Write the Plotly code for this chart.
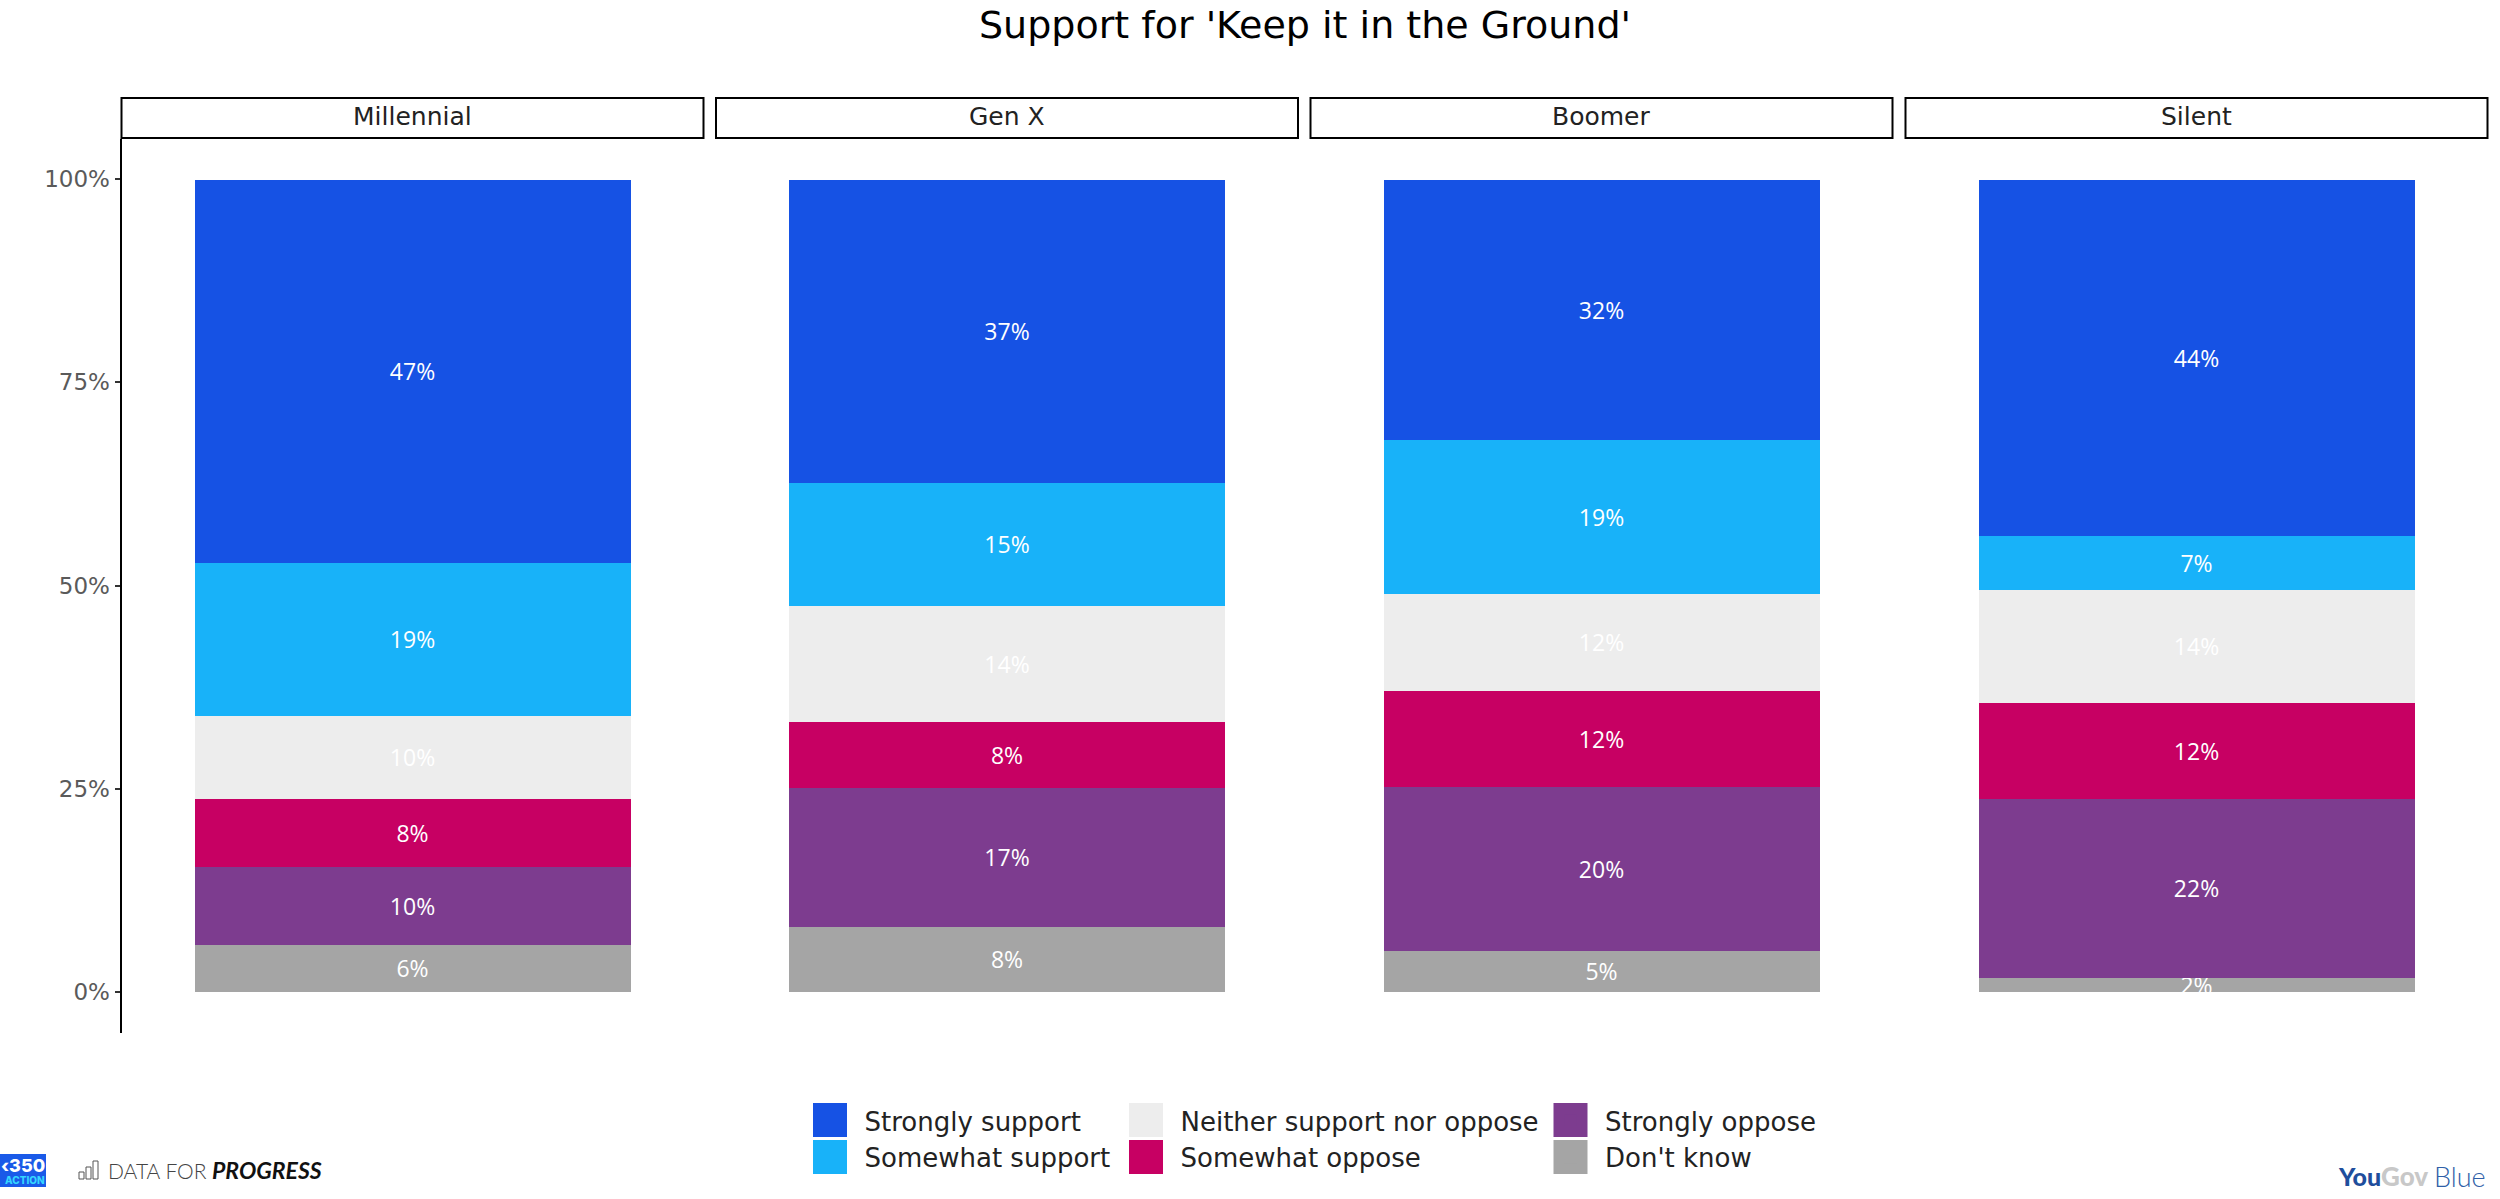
import plotly.graph_objects as go

W, H = 2500, 1199
title = "Support for 'Keep it in the Ground'"
generations = ["Millennial", "Gen X", "Boomer", "Silent"]
tick_values = [0, 25, 50, 75, 100]
tick_labels = ["0%", "25%", "50%", "75%", "100%"]

# bottom-to-top stack order
dont_know = [5.8, 8.0, 5.1, 1.8]
strongly_oppose = [9.6, 17.1, 20.2, 22.0]
somewhat_oppose = [8.4, 8.2, 11.8, 11.8]
neither = [10.2, 14.3, 11.9, 13.9]
somewhat_support = [18.8, 15.1, 19.0, 6.6]
strongly_support = [47.2, 37.3, 32.0, 43.9]

series = [
    ("Don't know", dont_know, "#A5A5A5", "legend3"),
    ("Strongly oppose", strongly_oppose, "#7D3C8F", "legend3"),
    ("Somewhat oppose", somewhat_oppose, "#C70063", "legend2"),
    ("Neither support nor oppose", neither, "#EDEDED", "legend2"),
    ("Somewhat support", somewhat_support, "#18B2F9", "legend"),
    ("Strongly support", strongly_support, "#1652E4", "legend"),
]

SANS = "DejaVu Sans"
LABEL = "Open Sans"


def px(x):
    return x / W


def py(y):
    return 1 - y / H


panel_left = [121.5, 716, 1310.5, 1905.5]
panel_w = 582
plot_top, plot_bottom = 138.6, 1032.6

fig = go.Figure()
shapes, annotations = [], []
layout = {}

for p, gen in enumerate(generations):
    suffix = "" if p == 0 else str(p + 1)
    for name, vals, color, leg in series:
        fig.add_trace(go.Bar(
            x=[gen], y=[vals[p]], name=name, width=0.9,
            marker=dict(color=color, line=dict(width=0)),
            text=[f"{vals[p]:.0f}%"], textposition="inside",
            insidetextanchor="middle", constraintext="none",
            textangle=0,
            textfont=dict(family=LABEL, size=23, color="white"),
            cliponaxis=False,
            xaxis="x" + suffix, yaxis="y" + suffix,
            legend=leg, showlegend=(p == 0),
        ))
    left = panel_left[p]
    layout["xaxis" + suffix] = dict(
        domain=[px(left), px(left + panel_w)], range=[-0.6, 0.6],
        type="category", visible=False, anchor="y" + suffix,
    )
    layout["yaxis" + suffix] = dict(
        domain=[py(plot_bottom), py(plot_top)], range=[-5, 105],
        anchor="x" + suffix, showgrid=False, zeroline=False,
        tickvals=tick_values, ticktext=tick_labels,
        visible=(p == 0), showline=(p == 0), linecolor="black", linewidth=2,
        ticks="outside", ticklen=5, tickwidth=2, tickcolor="#333333",
        tickfont=dict(family=SANS, size=23, color="#5A5A5A"),
    )
    # facet strip
    shapes.append(dict(type="rect", xref="paper", yref="paper",
                       x0=px(left), x1=px(left + panel_w), y0=py(138), y1=py(98),
                       line=dict(color="black", width=2), fillcolor="white"))
    annotations.append(dict(text=gen, xref="paper", yref="paper",
                            x=px(left + panel_w / 2), y=py(117), showarrow=False,
                            xanchor="center", yanchor="middle",
                            font=dict(family=SANS, size=25, color="#222222")))

# large legend keys behind the native legend swatches
key_x = {"legend": 813, "legend2": 1129, "legend3": 1553.5}
legend_rows = {"Strongly support": 0, "Somewhat support": 1,
               "Neither support nor oppose": 0, "Somewhat oppose": 1,
               "Strongly oppose": 0, "Don't know": 1}
for name, _, color, leg in series:
    r = legend_rows[name]
    shapes.append(dict(type="rect", xref="paper", yref="paper",
                       x0=px(key_x[leg]), x1=px(key_x[leg] + 34),
                       y0=py(1137 + 37 * r), y1=py(1103 + 37 * r),
                       line=dict(width=0), fillcolor=color))

legend_font = dict(family=SANS, size=26, color="#222222")
legend_common = dict(orientation="v", yanchor="top", xanchor="left", y=py(1097),
                     bgcolor="rgba(0,0,0,0)", borderwidth=0, itemwidth=59,
                     font=legend_font, traceorder="reversed",
                     itemclick=False, itemdoubleclick=False)
for leg, x in key_x.items():
    layout[leg] = dict(legend_common, x=px(x - 17.5))

# logos (wordmarks)
shapes.append(dict(type="rect", xref="paper", yref="paper",
                   x0=0, x1=px(46), y0=py(1187), y1=py(1154),
                   line=dict(width=0), fillcolor="#1A5AE8"))
for bx, by in [(79, 1172), (86, 1167), (93, 1161)]:
    shapes.append(dict(type="rect", xref="paper", yref="paper",
                       x0=px(bx), x1=px(bx + 5), y0=py(1179), y1=py(by),
                       line=dict(width=1, color="#555555"), fillcolor="white"))


def note(text, x, y, size, color, family="Inter", weight=400, anchor="left", style="normal"):
    annotations.append(dict(text=text, xref="paper", yref="paper", x=px(x), y=py(y),
                            showarrow=False, xanchor=anchor, yanchor="middle",
                            font=dict(family=family, size=size, color=color,
                                      weight=weight, style=style)))


note("‹350", 23, 1165, 18, "white", weight=800, anchor="center")
note("ACTION", 25, 1180, 10, "#35D6FF", weight=800, anchor="center")
note("DATA FOR", 106, 1170, 21, "#444444", family="Lato", weight=300)
note("PROGRESS", 210, 1170, 23, "#111111", family="Lato", weight=700, style="italic")
note("You", 2336, 1176, 25, "#1F4E9C", family="Lato", weight=900)
note("Gov", 2379, 1176, 26, "#C8C8C8", family="Lato", weight=900)
note("Blue", 2432, 1176, 27, "#2F5FA8", family="Lato", weight=300)

fig.update_layout(
    width=W, height=H, barmode="stack", bargap=0,
    paper_bgcolor="white", plot_bgcolor="white",
    margin=dict(l=0, r=0, t=0, b=0),
    title=dict(text=title, x=px(1305), xanchor="center", y=py(25), yanchor="middle",
               font=dict(family=SANS, size=38, color="black")),
    shapes=shapes, annotations=annotations,
    **layout,
)

fig.write_html("out.html", config=dict(displayModeBar=False),
               post_script="document.body.style.margin='0';")
